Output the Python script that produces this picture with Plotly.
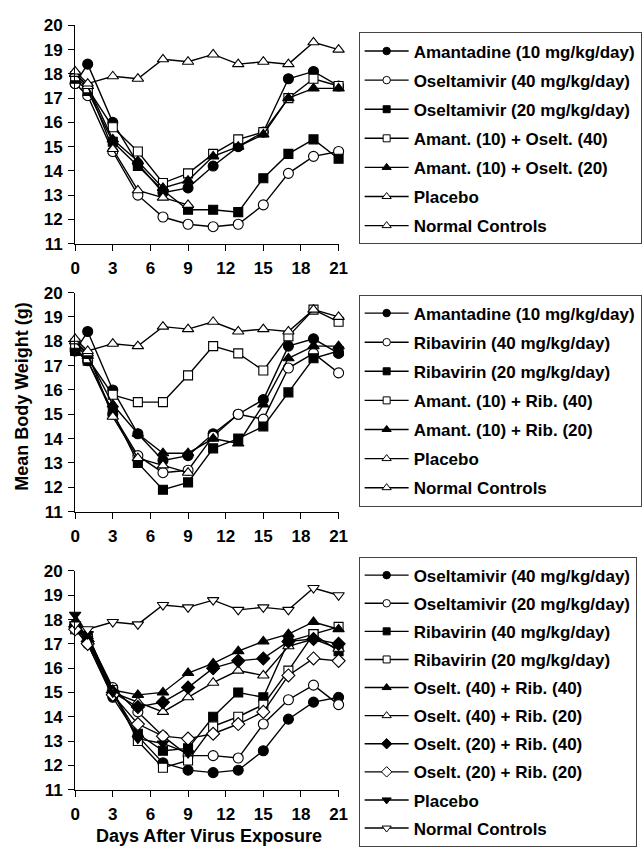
import plotly.graph_objects as go

days = [0, 1, 3, 5, 7, 9, 11, 13, 15, 17, 19, 21]
placebo_days = [0, 1, 3, 5, 7, 9]
x_ticks = [0, 3, 6, 9, 12, 15, 18, 21]
y_ticks = [11, 12, 13, 14, 15, 16, 17, 18, 19, 20]

# Panel 1: Amantadine / Oseltamivir
p1_names = ["Amantadine (10 mg/kg/day)", "Oseltamivir (40 mg/kg/day)", "Oseltamivir (20 mg/kg/day)",
            "Amant. (10) + Oselt. (40)", "Amant. (10) + Oselt. (20)", "Placebo", "Normal Controls"]
p1_amantadine = [17.6, 18.4, 16.0, 14.3, 13.1, 13.3, 14.2, 15.0, 15.6, 17.8, 18.1, 17.5]
p1_osel40 = [17.6, 17.1, 14.8, 13.0, 12.1, 11.8, 11.7, 11.8, 12.6, 13.9, 14.6, 14.8]
p1_osel20 = [17.8, 17.3, 15.2, 14.2, 13.2, 12.4, 12.4, 12.3, 13.7, 14.7, 15.3, 14.5]
p1_am_os40 = [17.9, 17.4, 15.8, 14.8, 13.5, 13.9, 14.7, 15.3, 15.6, 17.0, 17.8, 17.5]
p1_am_os20 = [18.0, 17.5, 15.3, 14.4, 13.3, 13.6, 14.6, 15.0, 15.5, 17.0, 17.4, 17.4]
p1_placebo = [18.0, 17.5, 14.9, 13.2, 12.9, 12.6]
p1_normal = [18.1, 17.6, 17.9, 17.8, 18.6, 18.5, 18.8, 18.4, 18.5, 18.4, 19.3, 19.0]

# Panel 2: Amantadine / Ribavirin
p2_names = ["Amantadine (10 mg/kg/day)", "Ribavirin (40 mg/kg/day)", "Ribavirin (20 mg/kg/day)",
            "Amant. (10) + Rib. (40)", "Amant. (10) + Rib. (20)", "Placebo", "Normal Controls"]
p2_amantadine = [17.6, 18.4, 16.0, 14.2, 13.1, 13.3, 14.2, 15.0, 15.6, 17.8, 18.1, 17.5]
p2_rib40 = [17.7, 17.2, 15.0, 13.3, 12.6, 12.7, 14.1, 15.0, 14.8, 16.9, 17.5, 16.7]
p2_rib20 = [17.6, 17.2, 15.1, 13.0, 11.9, 12.2, 13.6, 14.0, 14.5, 15.9, 17.3, 17.6]
p2_am_rib40 = [17.9, 17.3, 15.8, 15.5, 15.5, 16.6, 17.8, 17.5, 16.8, 18.2, 19.3, 18.8]
p2_am_rib20 = [18.0, 17.4, 15.4, 14.2, 13.4, 13.4, 14.0, 13.8, 15.4, 17.3, 17.8, 17.8]
p2_placebo = [18.0, 17.5, 14.9, 13.2, 12.9, 12.6]
p2_normal = [18.1, 17.6, 17.9, 17.8, 18.6, 18.5, 18.8, 18.4, 18.5, 18.4, 19.3, 19.0]

# Panel 3: Oseltamivir / Ribavirin
p3_names = ["Oseltamivir (40 mg/kg/day)", "Oseltamivir (20 mg/kg/day)", "Ribavirin (40 mg/kg/day)",
            "Ribavirin (20 mg/kg/day)", "Oselt. (40) + Rib. (40)", "Oselt. (40) + Rib. (20)",
            "Oselt. (20) + Rib. (40)", "Oselt. (20) + Rib. (20)", "Placebo", "Normal Controls"]
p3_osel40 = [17.6, 17.0, 14.8, 13.2, 12.1, 11.8, 11.7, 11.8, 12.6, 13.9, 14.6, 14.8]
p3_osel20 = [17.8, 17.3, 15.2, 14.2, 13.2, 12.4, 12.4, 12.3, 13.7, 14.7, 15.3, 14.5]
p3_rib40 = [17.7, 17.2, 15.0, 13.3, 12.6, 12.7, 14.0, 15.0, 14.8, 17.1, 17.4, 16.7]
p3_rib20 = [17.6, 17.2, 15.1, 13.0, 11.9, 12.2, 13.6, 14.0, 14.5, 15.9, 17.4, 17.7]
p3_os40_rib40 = [17.9, 17.3, 15.1, 14.9, 15.0, 15.8, 16.2, 16.7, 17.1, 17.4, 17.9, 17.6]
p3_os40_rib20 = [17.8, 17.2, 15.0, 14.6, 14.2, 14.8, 15.4, 15.9, 15.7, 16.9, 17.2, 16.8]
p3_os20_rib40 = [17.7, 17.1, 15.0, 14.4, 14.6, 15.2, 16.0, 16.3, 16.4, 17.1, 17.2, 17.0]
p3_os20_rib20 = [17.6, 17.0, 14.9, 13.7, 13.2, 13.1, 13.3, 13.7, 14.2, 15.7, 16.4, 16.3]
p3_placebo = [18.2, 17.4, 15.0, 13.1, 12.9, 12.5]
p3_normal = [17.8, 17.6, 17.9, 17.8, 18.6, 18.5, 18.8, 18.4, 18.5, 18.4, 19.3, 19.0]

FONT = "Liberation Sans, Arial, Helvetica, sans-serif"

panels = [
    (p1_names,
     [(days, p1_amantadine, "circle", True), (days, p1_osel40, "circle", False),
      (days, p1_osel20, "square", True), (days, p1_am_os40, "square", False),
      (days, p1_am_os20, "triangle-up", True), (placebo_days, p1_placebo, "triangle-up", False),
      (days, p1_normal, "triangle-up", False)]),
    (p2_names,
     [(days, p2_amantadine, "circle", True), (days, p2_rib40, "circle", False),
      (days, p2_rib20, "square", True), (days, p2_am_rib40, "square", False),
      (days, p2_am_rib20, "triangle-up", True), (placebo_days, p2_placebo, "triangle-up", False),
      (days, p2_normal, "triangle-up", False)]),
    (p3_names,
     [(days, p3_osel40, "circle", True), (days, p3_osel20, "circle", False),
      (days, p3_rib40, "square", True), (days, p3_rib20, "square", False),
      (days, p3_os40_rib40, "triangle-up", True), (days, p3_os40_rib20, "triangle-up", False),
      (days, p3_os20_rib40, "diamond", True), (days, p3_os20_rib20, "diamond", False),
      (placebo_days, p3_placebo, "triangle-down", True), (days, p3_normal, "triangle-down", False)]),
]

H = 858.0
W = 644.0
# (top px of y=20, bottom px of y=11)
panel_px = [(16.7, 240.0), (290.0, 514.0), (574.7, 798.3)]
legend_top_px = [24.0, 292.0, 560.0]
x_dom = [71.7 / W, 341.0 / W]

fig = go.Figure()
sizes = {"circle": 10, "square": 9, "triangle-up": 10, "triangle-down": 10, "diamond": 10}
leg_sizes = {"circle": 7.5, "square": 7, "triangle-up": 8, "triangle-down": 8, "diamond": 8}

for i, (names, series) in enumerate(panels):
    ax = "" if i == 0 else str(i + 1)
    leg = "legend" if i == 0 else "legend" + str(i + 1)
    for j, (xs, ys, sym, filled) in enumerate(series):
        fig.add_trace(go.Scatter(
            x=xs, y=ys, mode="lines+markers", name=names[j],
            xaxis="x" + ax, yaxis="y" + ax, showlegend=False,
            legendgroup=f"p{i}_{j}", cliponaxis=False,
            line=dict(color="black", width=1.4),
            marker=dict(symbol=sym, size=sizes[sym],
                        color="black" if filled else "white",
                        line=dict(color="black", width=1.1)),
        ))
    # legend entries (smaller key symbols, as in the reference)
    for j, (xs, ys, sym, filled) in enumerate(series):
        fig.add_trace(go.Scatter(
            x=[None], y=[None], mode="lines+markers", name=names[j],
            xaxis="x" + ax, yaxis="y" + ax, legend=leg, showlegend=True,
            legendgroup=f"p{i}_{j}", hoverinfo="skip",
            line=dict(color="black", width=1.4),
            marker=dict(symbol=sym, size=leg_sizes[sym],
                        color="black" if filled else "white",
                        line=dict(color="black", width=1)),
        ))

layout = dict(
    width=644, height=858, margin=dict(l=0, r=0, t=0, b=0),
    paper_bgcolor="white", plot_bgcolor="white",
    font=dict(family=FONT, color="black"),
)
for i in range(3):
    ax = "" if i == 0 else str(i + 1)
    top, bot = panel_px[i]
    layout["xaxis" + ax] = dict(
        domain=x_dom, range=[0, 21], anchor="y" + ax,
        tickvals=x_ticks, ticktext=[str(v) for v in x_ticks],
        showline=True, linecolor="black", linewidth=1.2,
        ticks="outside", ticklen=6, tickwidth=1.2, tickcolor="black",
        showgrid=False, zeroline=False, ticklabelstandoff=3,
        tickfont=dict(family=FONT, size=17, weight="bold", color="black"),
    )
    layout["yaxis" + ax] = dict(
        domain=[1 - bot / H, 1 - top / H], range=[11, 20], anchor="x" + ax,
        tickvals=y_ticks, ticktext=[str(v) for v in y_ticks],
        showline=True, linecolor="black", linewidth=1.2,
        ticks="outside", ticklen=6, tickwidth=1.2, tickcolor="black",
        showgrid=False, zeroline=False, ticklabelstandoff=2,
        tickfont=dict(family=FONT, size=17, weight="bold", color="black"),
    )
    leg = "legend" if i == 0 else "legend" + str(i + 1)
    layout[leg] = dict(
        x=361.5 / W, xanchor="left", y=1 - legend_top_px[i] / H, yanchor="top",
        bordercolor="#444", borderwidth=1, bgcolor="white",
        font=dict(family=FONT, size=17, weight="bold", color="black"),
        traceorder="grouped", tracegroupgap=4 if i < 2 else 3,
        itemwidth=44, itemclick=False, itemdoubleclick=False,
    )

fig.update_layout(**layout)

fig.add_annotation(text="Mean Body Weight (g)", xref="paper", yref="paper",
                   x=18 / W, y=1 - 396 / H, xanchor="center", yanchor="middle",
                   textangle=-90, showarrow=False,
                   font=dict(family=FONT, size=18, weight="bold", color="black"))
fig.add_annotation(text="Days After Virus Exposure", xref="paper", yref="paper",
                   x=209 / W, y=0, xanchor="center", yanchor="bottom",
                   showarrow=False,
                   font=dict(family=FONT, size=18, weight="bold", color="black"))

fig.write_html("out.html")
